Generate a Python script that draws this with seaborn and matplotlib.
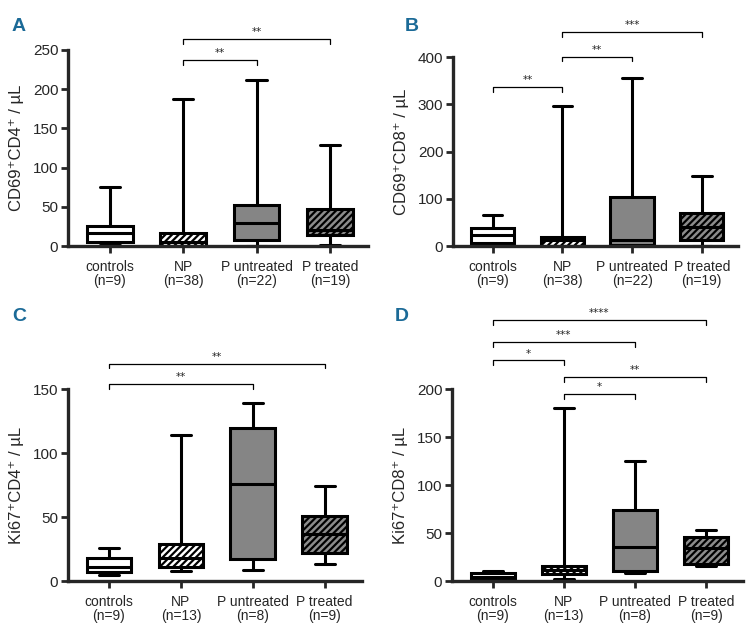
import numpy as np
import pandas as pd
import matplotlib
matplotlib.use('Agg')
import matplotlib.pyplot as plt
import seaborn as sns

groups = ['controls', 'NP', 'P untreated', 'P treated']

# five-number summaries per group: min, q1, median, q3, max
a_stats = [[2, 5, 17, 25, 75], [0, 0, 5, 17, 187], [0, 8, 29, 52, 212], [2, 14.5, 20, 47, 129]]
b_stats = [[0, 7, 24, 37.5, 65], [0, 1, 13, 19, 297], [0, 3, 13.5, 104, 356], [0, 13.5, 40, 71, 148]]
c_stats = [[5, 7.3, 11, 17.7, 26], [8, 11.2, 17.7, 28.7, 114], [9, 17, 75.6, 120, 139], [13, 22, 36.5, 51, 74]]
d_stats = [[0, 2, 4.5, 8, 10], [2.4, 7, 11.5, 15.6, 180], [8, 10.4, 35.8, 73.7, 125.6], [16, 18, 34, 46, 53]]

a_n = [9, 38, 22, 19]
b_n = [9, 38, 22, 19]
c_n = [9, 13, 8, 9]
d_n = [9, 13, 8, 9]

# significance brackets: (group i, group j, height, label)
a_sig = [(1, 2, 237, '**'), (1, 3, 264, '**')]
b_sig = [(0, 1, 336, '**'), (1, 2, 401, '**'), (1, 3, 453, '***')]
c_sig = [(0, 2, 154, '**'), (0, 3, 170, '**')]
d_sig = [(0, 3, 272, '****'), (0, 2, 249, '***'), (0, 1, 230, '*'), (1, 3, 213, '**'), (1, 2, 195, '*')]

ylabels = ['CD69⁺CD4⁺ / µL', 'CD69⁺CD8⁺ / µL', 'Ki67⁺CD4⁺ / µL', 'Ki67⁺CD8⁺ / µL']
yticks = [np.arange(0, 251, 50), np.arange(0, 401, 100), np.arange(0, 151, 50), np.arange(0, 201, 50)]

sns.set_style('ticks')
plt.rcParams['font.family'] = ['Liberation Sans', 'DejaVu Sans']
plt.rcParams['hatch.linewidth'] = 1.6

fig = plt.figure(figsize=(7.5, 6.31), dpi=100)
rects = [[0.0907, 0.610, 0.400, 0.311],
         [0.604, 0.610, 0.380, 0.2995],
         [0.0907, 0.0792, 0.392, 0.304],
         [0.6027, 0.0792, 0.388, 0.304]]
letters = ['A', 'B', 'C', 'D']
letter_pos = [(0.016, 0.972), (0.540, 0.972), (0.016, 0.512), (0.527, 0.512)]

faces = ['white', 'white', '#858585', '#8c8c8c']
hatches = [None, '/////', None, '/////']

panels = [(a_stats, a_n, a_sig), (b_stats, b_n, b_sig), (c_stats, c_n, c_sig), (d_stats, d_n, d_sig)]

for k, (stats, ns, sig) in enumerate(panels):
    ax = fig.add_axes(rects[k])
    rows = []
    for g, s in zip(groups, stats):
        for v in s:
            rows.append({'group': g, 'value': v})
    df = pd.DataFrame(rows)
    sns.boxplot(data=df, x='group', y='value', ax=ax, whis=(0, 100), width=0.62,
                color='white', linecolor='black', linewidth=2.2, fliersize=0,
                capwidths=0.28)
    for p, fc, h in zip(ax.patches, faces, hatches):
        p.set_facecolor(fc)
        p.set_edgecolor('black')
        if h:
            p.set_hatch(h)

    ymax = yticks[k][-1]
    ax.set_ylim(0, ymax)
    ax.set_yticks(yticks[k])
    ax.set_xlim(-0.57, 3.52)
    ax.set_xticks(range(4))
    ax.set_xticklabels([f'{g}\n(n={n})' for g, n in zip(groups, ns)], fontsize=10, linespacing=1.0)
    ax.tick_params(axis='y', labelsize=11, width=2, length=5, pad=2)
    ax.tick_params(axis='x', width=2, length=5, pad=5)
    ax.set_xlabel('')
    ax.set_ylabel(ylabels[k], fontsize=12, labelpad=6)
    sns.despine(ax=ax)
    for sp in ['left', 'bottom']:
        ax.spines[sp].set_linewidth(2.4)

    tick = ymax * 0.025
    for i, j, h, lab in sig:
        ax.plot([i, i, j, j], [h - tick, h, h, h - tick], color='black', lw=0.9, clip_on=False)
        ax.text((i + j) / 2, h + tick * 0.4, lab, ha='center', va='bottom', fontsize=7.5,
                fontfamily='DejaVu Sans', clip_on=False)

    fig.text(letter_pos[k][0], letter_pos[k][1], letters[k], color='#1b6a97',
             fontsize=14, fontweight='bold', ha='left', va='top')

fig.savefig('out.png', dpi=100)
